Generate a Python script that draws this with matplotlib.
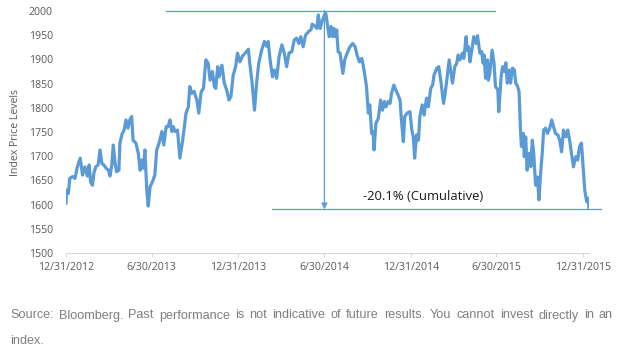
import matplotlib
matplotlib.use("Agg")
import matplotlib.pyplot as plt
from matplotlib import font_manager
import pandas as pd

# ---------------- data ----------------
START_DATE = "2012-12-31"
DAY_OFFSETS = [
    0, 1, 5, 8, 14, 19, 24, 30, 35, 40, 45, 49, 52, 56, 59, 63, 68, 72, 76, 80, 85, 90, 93, 97,
    100, 104, 107, 112, 114, 119, 123, 127, 131, 135, 139, 142, 148, 153, 157, 160, 164, 167,
    171, 174, 178, 183, 188, 192, 197, 203, 207, 212, 216, 220, 224, 227, 231, 236, 241, 247,
    254, 259, 262, 266, 271, 277, 281, 286,
    291, 296, 301, 305, 310, 314, 317, 321, 324, 330, 335, 340, 345, 349, 354, 359, 363, 368,
    373, 379, 386, 389, 394, 399, 404, 408, 414, 420, 425, 428, 432, 437, 441, 446, 451, 457,
    462, 467, 472, 478, 483, 488, 493, 497, 502, 507, 513, 519, 521, 526, 531, 534, 538, 542,
    547, 550, 554, 557, 561, 564, 567, 570, 573,
    576, 580, 586, 590, 595, 601, 607, 612, 616, 621, 626, 629, 633, 636, 640, 643, 647, 650,
    652, 656, 661, 666, 670, 674, 677, 682, 686, 689, 694, 698, 703, 707, 710, 714, 717, 722,
    728, 732, 735, 738, 742, 746, 749, 754, 758, 763, 767, 772, 776, 779, 785, 789, 794, 799,
    802, 806, 811, 814, 818, 823, 827, 830, 834, 839, 842, 847, 849, 852, 855, 859, 863,
    868, 871, 876, 880, 883, 885, 888, 892, 894, 897, 902, 906, 909, 914, 916, 921, 924, 928,
    931, 934, 938, 941, 945, 949, 952, 956, 959, 962, 964, 968, 970, 973, 976, 980, 984, 987,
    990, 994, 998, 1001, 1005, 1008, 1011, 1015, 1019, 1024, 1028, 1032, 1036, 1041, 1045,
    1049, 1053, 1058, 1062, 1066, 1070, 1074, 1079, 1083, 1087, 1091, 1094, 1098, 1102, 1105,
    1107,
]
INDEX_LEVELS = [
    1603, 1630, 1623, 1654, 1658, 1654, 1678, 1696, 1661, 1678, 1659, 1682, 1647, 1640, 1665,
    1678, 1682, 1713, 1685, 1682, 1675, 1671, 1659, 1682, 1723, 1685, 1668, 1671, 1727, 1747,
    1754, 1775, 1758, 1775, 1782, 1733, 1727, 1706, 1671, 1692, 1675, 1713, 1630, 1597, 1637,
    1647, 1661, 1713, 1727, 1751, 1723, 1761, 1761, 1775, 1751, 1761, 1751, 1754, 1696, 1733,
    1789, 1802, 1844, 1830, 1834, 1816, 1789, 1833,
    1840, 1899, 1892, 1857, 1875, 1844, 1840, 1885, 1864, 1888, 1851, 1837, 1816, 1823, 1868,
    1885, 1913, 1895, 1906, 1913, 1921, 1892, 1851, 1795, 1857, 1892, 1919, 1937, 1927, 1937,
    1899, 1864, 1878, 1861, 1906, 1930, 1913, 1885, 1913, 1916, 1940, 1944, 1933, 1947, 1926,
    1950, 1957, 1962, 1973, 1969, 1964, 1992, 1964, 1978, 1992, 1995, 1968, 1947, 1968, 1947,
    1964, 1947, 1961,
    1916, 1913, 1871, 1899, 1913, 1926, 1933, 1926, 1909, 1895, 1902, 1888, 1864, 1844, 1789,
    1806, 1747, 1751, 1713, 1768, 1778, 1816, 1795, 1813, 1802, 1813, 1809, 1830, 1847, 1837,
    1826, 1816, 1775, 1730, 1782, 1789, 1792, 1754, 1740, 1696, 1744, 1733, 1782, 1806, 1785,
    1820, 1802, 1840, 1847, 1868, 1882, 1885, 1851, 1809, 1826, 1857, 1899, 1878, 1851, 1885,
    1892, 1909, 1899, 1913, 1902, 1947, 1919, 1926, 1895, 1919, 1947,
    1933, 1949, 1913, 1916, 1892, 1909, 1861, 1899, 1857, 1871, 1919, 1892, 1844, 1837, 1792,
    1864, 1885, 1875, 1893, 1851, 1878, 1851, 1882, 1878, 1851, 1844, 1833, 1754, 1720, 1747,
    1699, 1740, 1671, 1706, 1678, 1733, 1706, 1640, 1657, 1610, 1671, 1706, 1754, 1758, 1747,
    1758, 1775, 1761, 1747, 1744, 1733, 1709, 1754, 1740, 1754, 1733, 1706, 1678, 1699, 1692,
    1720, 1727, 1685, 1630, 1606, 1613, 1592,
]
X_TICK_DATES = ["2012-12-31", "2013-06-30", "2013-12-31", "2014-06-30",
                "2014-12-31", "2015-06-30", "2015-12-31"]
X_TICK_LABELS = ["12/31/2012", "6/30/2013", "12/31/2013", "6/30/2014",
                 "12/31/2014", "6/30/2015", "12/31/2015"]
Y_TICKS = list(range(1500, 2001, 50))
Y_LABEL = "Index Price Levels"

# drawdown annotation
PEAK_LEVEL = 2001
TROUGH_LEVEL = 1590
PEAK_LINE_DATES = ["2013-07-31", "2015-06-28"]
TROUGH_LINE_DATES = ["2014-03-12", "2016-02-06"]
ARROW_DATE = "2014-07-01"
ANNOT_TEXT = "-20.1% (Cumulative)"
ANNOT_DATE = "2015-01-25"
ANNOT_LEVEL = 1617

SOURCE_LINE1 = ("Source: Bloomberg. Past performance is not indicative of future results. "
                "You cannot invest directly in an")
SOURCE_LINE2 = "index."

# ---------------- style ----------------
BLUE = "#5b9bd5"
GRAY_TXT = "#595959"
names = {f.name for f in font_manager.fontManager.ttflist}
MAIN_FONT = ["Open Sans", "DejaVu Sans"]
SRC_FONT = ["Liberation Sans Narrow"] if "Liberation Sans Narrow" in names else ["Liberation Sans"]
plt.rcParams["font.family"] = MAIN_FONT

W, H = 622, 353
fig = plt.figure(figsize=(W / 100, H / 100), dpi=100)
ax = fig.add_axes([66 / W, 1 - 253 / H, (589 - 66) / W, (253 - 11) / H])

start = pd.Timestamp(START_DATE)
dates = start + pd.to_timedelta(DAY_OFFSETS, unit="D")
ax.plot(dates, INDEX_LEVELS, color=BLUE, lw=2.3, solid_joinstyle="round", zorder=3)

ax.set_xlim(dates[0], dates[-1])
ax.set_ylim(1500, 2000)
ax.set_yticks(Y_TICKS)
ax.set_yticklabels([str(v) for v in Y_TICKS])
ax.set_xticks(pd.to_datetime(X_TICK_DATES))
ax.set_xticklabels(X_TICK_LABELS)

for s in ["top", "right", "left"]:
    ax.spines[s].set_visible(False)
ax.spines["bottom"].set_color("#d9d9d9")
ax.spines["bottom"].set_linewidth(0.8)
ax.tick_params(axis="y", length=0, pad=9.5, labelsize=7.6, labelcolor=GRAY_TXT)
ax.tick_params(axis="x", length=3, width=0.8, color="#d9d9d9", pad=3.5,
               labelsize=7.6, labelcolor=GRAY_TXT, direction="out")
ax.set_ylabel(Y_LABEL, fontsize=7.6, color=GRAY_TXT)
ax.yaxis.set_label_coords(-(66 - 20.5) / (589 - 66), 0.5)

# annotation shapes
pl = pd.to_datetime(PEAK_LINE_DATES)
tl = pd.to_datetime(TROUGH_LINE_DATES)
ax.plot(pl, [PEAK_LEVEL, PEAK_LEVEL], color=BLUE, lw=0.9, clip_on=False, zorder=4)
ax.plot(tl, [TROUGH_LEVEL, TROUGH_LEVEL], color=BLUE, lw=0.9, clip_on=False, zorder=4)
ad = pd.Timestamp(ARROW_DATE)
ax.annotate("", xy=(ad, TROUGH_LEVEL), xytext=(ad, PEAK_LEVEL),
            arrowprops=dict(arrowstyle="-|>", color=BLUE, lw=0.9, mutation_scale=9,
                            shrinkA=0, shrinkB=0), annotation_clip=False, zorder=4)
ax.text(pd.Timestamp(ANNOT_DATE), ANNOT_LEVEL, ANNOT_TEXT, ha="center", va="center",
        fontsize=9.4, color="#1a1a1a")

# source text: first line justified word by word, font size fitted so gaps are ~5 px
left, right, target_gap = 10, 613, 5.0
fig.canvas.draw()
renderer = fig.canvas.get_renderer()
words = SOURCE_LINE1.split()

def word_widths(size):
    tmp = [fig.text(0, 0, w, fontsize=size, family=SRC_FONT) for w in words]
    ws = [t.get_window_extent(renderer).width for t in tmp]
    for t in tmp:
        t.remove()
    return ws

base = 10.0
ws0 = word_widths(base)
avail = (right - left) - target_gap * (len(words) - 1)
src_size = base * avail / sum(ws0)
widths = word_widths(src_size)
gap = (right - left - sum(widths)) / (len(words) - 1)
src_kw = dict(fontsize=src_size, color="#7f7f7f", family=SRC_FONT, va="baseline", ha="left")
x = left
for w, wd in zip(words, widths):
    fig.text(x / W, 1 - 318.5 / H, w, **src_kw)
    x += wd + gap
fig.text(left / W, 1 - 344 / H, SOURCE_LINE2, **src_kw)

fig.savefig("out.png", dpi=100)
